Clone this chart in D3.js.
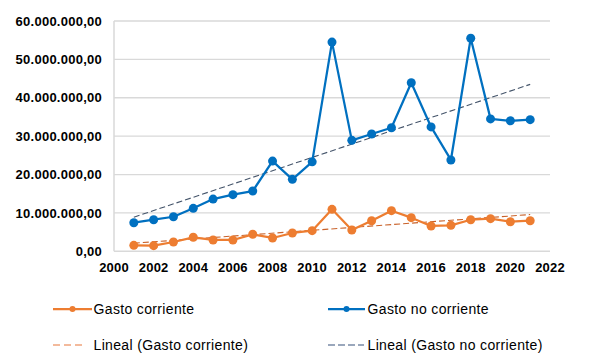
<!DOCTYPE html>
<html><head><meta charset="utf-8">
<script src="https://cdn.jsdelivr.net/npm/d3@7"></script>
<style>
html,body{margin:0;padding:0;background:#fff;}
svg{display:block;}
text{font-family:"Liberation Sans",Arial,sans-serif;fill:#000;}
</style></head>
<body>
<svg id="chart" width="595" height="359"></svg>
<script>
const years = [2001,2002,2003,2004,2005,2006,2007,2008,2009,2010,2011,2012,2013,2014,2015,2016,2017,2018,2019,2020,2021];
const gastoCorriente = [1.56,1.47,2.42,3.65,2.95,2.95,4.43,3.47,4.77,5.37,10.94,5.55,7.97,10.58,8.76,6.6,6.77,8.23,8.5,7.7,7.97].map(v=>v*1e6);
const gastoNoCorriente = [7.45,8.23,9.0,11.2,13.6,14.75,15.7,23.5,18.75,23.3,54.5,28.9,30.55,32.2,43.9,32.4,23.8,55.5,34.5,34.0,34.3].map(v=>v*1e6);
const xTicks = [2000,2002,2004,2006,2008,2010,2012,2014,2016,2018,2020,2022];
const yTicks = [0,10e6,20e6,30e6,40e6,50e6,60e6];
const seriesNames = ["Gasto corriente","Gasto no corriente"];
const trendNames = ["Lineal (Gasto corriente)","Lineal (Gasto no corriente)"];

const svg = d3.select("#chart");
const W=595,H=359;
svg.append("rect").attr("width",W).attr("height",H).attr("fill","#fff");

const x = d3.scaleLinear().domain([2000,2022]).range([114,550]);
const y = d3.scaleLinear().domain([0,60e6]).range([251.3,21]);

const fmt = v => {
  const s = d3.format(",.2f")(v);
  return s.replace(/,/g,"#").replace(/\./g,",").replace(/#/g,".");
};

// gridlines
svg.append("g").selectAll("line").data(yTicks.filter(d=>d>0)).join("line")
  .attr("x1",x(2000)).attr("x2",x(2022)).attr("y1",d=>y(d)).attr("y2",d=>y(d))
  .attr("stroke","#d9d9d9").attr("stroke-width",1.3);
// axis lines
svg.append("line").attr("x1",x(2000)).attr("x2",x(2000)).attr("y1",y(60e6)).attr("y2",y(0))
  .attr("stroke","#d9d9d9").attr("stroke-width",1.5);
svg.append("line").attr("x1",x(2000)).attr("x2",x(2022)).attr("y1",y(0)).attr("y2",y(0))
  .attr("stroke","#d9d9d9").attr("stroke-width",1.5);

// y tick labels
svg.append("g").selectAll("text").data(yTicks).join("text")
  .attr("x",102).attr("y",d=>y(d)).attr("dy","0.36em").attr("text-anchor","end")
  .style("font-size","13px").style("font-weight","bold").style("letter-spacing","0.25px")
  .text(fmt);
// x tick labels
svg.append("g").selectAll("text").data(xTicks).join("text")
  .attr("x",d=>x(d)).attr("y",271.7).attr("text-anchor","middle")
  .style("font-size","13px").style("font-weight","bold").style("letter-spacing","0.2px")
  .text(d=>d);

function regress(xs,ys){
  const n=xs.length, mx=d3.mean(xs), my=d3.mean(ys);
  let sxy=0,sxx=0;
  for(let i=0;i<n;i++){sxy+=(xs[i]-mx)*(ys[i]-my);sxx+=(xs[i]-mx)**2;}
  const b=sxy/sxx, a=my-b*mx;
  return t=>a+b*t;
}

const colors = ["#ED7D31","#0070C0"];
const trendColors = ["#C9622A","#44546A"];
const data = [gastoCorriente,gastoNoCorriente];
const line = d3.line().x(d=>x(d[0])).y(d=>y(d[1]));

// trend lines
data.forEach((vals,i)=>{
  const f = regress(years,vals);
  const x0=years[0], x1=years[years.length-1];
  svg.append("path").datum([[x0,f(x0)],[x1,f(x1)]])
    .attr("d",line).attr("fill","none").attr("stroke",trendColors[i])
    .attr("stroke-width",1.1).attr("stroke-dasharray","6,3");
});

// series
data.forEach((vals,i)=>{
  const pts = years.map((yr,j)=>[yr,vals[j]]);
  svg.append("path").datum(pts).attr("d",line).attr("fill","none")
    .attr("stroke",colors[i]).attr("stroke-width",2.25).attr("stroke-linejoin","round");
  svg.append("g").selectAll("circle").data(pts).join("circle")
    .attr("cx",d=>x(d[0])).attr("cy",d=>y(d[1])).attr("r",4.5).attr("fill",colors[i]);
});

// legend
const leg = [
  {x0:53,x1:92,tx:93.5,y:309,type:"series",i:0,label:seriesNames[0]},
  {x0:328,x1:365,tx:367.5,y:309,type:"series",i:1,label:seriesNames[1]},
  {x0:53,x1:86,tx:93.5,y:345,type:"trend",i:0,label:trendNames[0]},
  {x0:328,x1:364,tx:367.5,y:345,type:"trend",i:1,label:trendNames[1]}
];
leg.forEach(l=>{
  if(l.type==="series"){
    svg.append("line").attr("x1",l.x0).attr("x2",l.x1).attr("y1",l.y).attr("y2",l.y)
      .attr("stroke",colors[l.i]).attr("stroke-width",2.25);
    svg.append("circle").attr("cx",(l.x0+l.x1)/2).attr("cy",l.y).attr("r",3).attr("fill",colors[l.i]);
  } else {
    svg.append("line").attr("x1",l.x0).attr("x2",l.x1).attr("y1",l.y).attr("y2",l.y)
      .attr("stroke",l.i===0?"#F0A47C":"#7A8AA6").attr("stroke-width",1.5)
      .attr("stroke-dasharray",l.i===0?"7,4":"7,3");
  }
  svg.append("text").attr("x",l.tx).attr("y",l.y).attr("dy","0.36em")
    .style("font-size","14px").style("letter-spacing","0.35px").text(l.label);
});
</script>
</body></html>
